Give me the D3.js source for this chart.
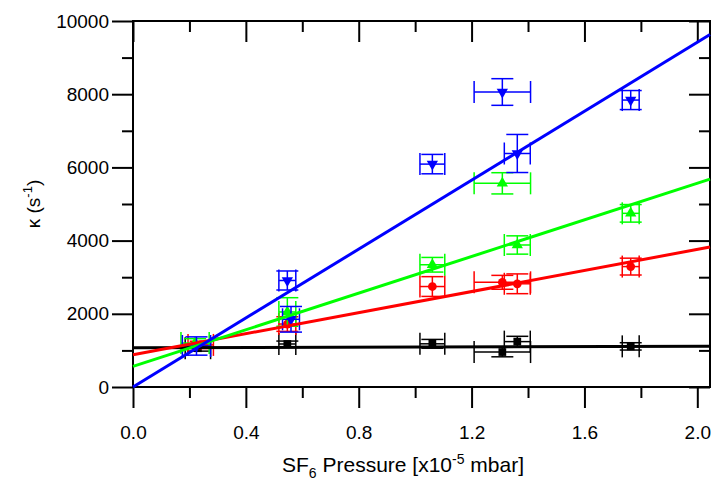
<!DOCTYPE html>
<html lang="en">

<head>
    <meta charset="UTF-8">
    <script src="https://d3js.org/d3.v7.min.js"></script>
    <title>kappa vs SF6 pressure</title>
    <style>
        body { margin: 0; background: white; }
        text { font-family: "Liberation Sans", Arial, sans-serif; fill: black; }
    </style>
</head>

<body>
    <div id="chart"></div>
    <script>
        // Data
        const xTicks = [0.0, 0.4, 0.8, 1.2, 1.6, 2.0];
        const yTicks = [0, 2000, 4000, 6000, 8000, 10000];

        const blackX = [0.23, 0.547, 1.061, 1.309, 1.362, 1.764];
        const blackY = [1060, 1175, 1180, 955, 1240, 1110];
        const blackXErr = [0.045, 0.03, 0.044, 0.1, 0.046, 0.03];
        const blackYErr = [80, 80, 120, 130, 145, 100];

        const redX = [0.24, 0.547, 1.061, 1.309, 1.362, 1.764];
        const redY = [1150, 1720, 2745, 2860, 2820, 3290];
        const redXErr = [0.045, 0.03, 0.044, 0.1, 0.046, 0.03];
        const redYErr = [100, 200, 270, 190, 270, 230];

        const greenX = [0.22, 0.547, 1.061, 1.309, 1.362, 1.764];
        const greenY = [1200, 2050, 3340, 5565, 3880, 4745];
        const greenXErr = [0.05, 0.03, 0.044, 0.1, 0.046, 0.03];
        const greenYErr = [120, 390, 200, 290, 250, 240];

        const blueX = [0.225, 0.547, 0.56, 1.061, 1.309, 1.362, 1.764];
        const blueY = [1120, 2910, 1850, 6090, 8060, 6380, 7840];
        const blueXErr = [0.05, 0.03, 0.03, 0.044, 0.1, 0.046, 0.03];
        const blueYErr = [250, 260, 350, 265, 364, 520, 260];

        // linear fits: kappa = intercept + slope * p
        const fitIntercept = [1070, 880, 562, 0];
        const fitSlope = [20, 1440, 2503, 4709];

        const series = [
            { color: "#000000", symbol: d3.symbolSquare, size: 60, rotate: 0, x: blackX, y: blackY, xe: blackXErr, ye: blackYErr },
            { color: "#ff0000", symbol: d3.symbolCircle, size: 60, rotate: 0, x: redX, y: redY, xe: redXErr, ye: redYErr },
            { color: "#00ff00", symbol: d3.symbolTriangle, size: 55, rotate: 0, x: greenX, y: greenY, xe: greenXErr, ye: greenYErr },
            { color: "#0000ff", symbol: d3.symbolTriangle, size: 55, rotate: 180, x: blueX, y: blueY, xe: blueXErr, ye: blueYErr }
        ];

        // Dimensions
        const width = 713;
        const height = 482;
        const margin = { top: 21, right: 3, bottom: 95, left: 133 };
        const innerW = width - margin.left - margin.right;
        const innerH = height - margin.top - margin.bottom;

        const svg = d3.select("#chart")
            .append("svg")
            .attr("width", width)
            .attr("height", height);

        const g = svg.append("g")
            .attr("transform", `translate(${margin.left},${margin.top})`);

        // Scales
        const xScale = d3.scaleLinear().domain([0, 2.045]).range([0, innerW]);
        const yScale = d3.scaleLinear().domain([0, 10000]).range([innerH, 0]);

        const xMinor = d3.range(0.2, 2.045, 0.4);
        const yMinor = d3.range(1000, 10000, 2000);

        // Axes
        const styleAxis = sel => {
            sel.select(".domain").remove();
            sel.selectAll("line").attr("stroke", "black").attr("stroke-width", 2);
            sel.selectAll("text").attr("font-size", 19);
        };

        g.append("g").attr("transform", `translate(0,${innerH})`)
            .call(d3.axisBottom(xScale).tickValues(xTicks).tickFormat(d3.format(".1f")).tickSize(21).tickPadding(18))
            .call(styleAxis);
        g.append("g").attr("transform", `translate(0,${innerH})`)
            .call(d3.axisBottom(xScale).tickValues(xMinor).tickFormat("").tickSize(11))
            .call(styleAxis);
        g.append("g")
            .call(d3.axisBottom(xScale).tickValues(xTicks).tickFormat("").tickSize(21))
            .call(styleAxis);
        g.append("g")
            .call(d3.axisBottom(xScale).tickValues(xMinor).tickFormat("").tickSize(11))
            .call(styleAxis);

        g.append("g")
            .call(d3.axisLeft(yScale).tickValues(yTicks).tickFormat(d3.format("d")).tickSize(21).tickPadding(3))
            .call(styleAxis);
        g.append("g")
            .call(d3.axisLeft(yScale).tickValues(yMinor).tickFormat("").tickSize(11))
            .call(styleAxis);
        g.append("g").attr("transform", `translate(${innerW},0)`)
            .call(d3.axisLeft(yScale).tickValues(yTicks).tickFormat("").tickSize(21))
            .call(styleAxis);
        g.append("g").attr("transform", `translate(${innerW},0)`)
            .call(d3.axisLeft(yScale).tickValues(yMinor).tickFormat("").tickSize(11))
            .call(styleAxis);

        // Frame
        g.append("rect")
            .attr("width", innerW)
            .attr("height", innerH)
            .attr("fill", "none")
            .attr("stroke", "black")
            .attr("stroke-width", 2);

        // Error bars and markers
        const cap = 11;
        series.forEach(s => {
            const pts = s.x.map((x, i) => ({ x, y: s.y[i], xe: s.xe[i], ye: s.ye[i] }));
            const grp = g.append("g").attr("stroke", s.color).attr("stroke-width", 1.5);

            pts.forEach(d => {
                const cx = xScale(d.x), cy = yScale(d.y);
                const x0 = xScale(d.x - d.xe), x1 = xScale(d.x + d.xe);
                const y0 = yScale(d.y - d.ye), y1 = yScale(d.y + d.ye);
                grp.append("line").attr("x1", x0).attr("x2", x1).attr("y1", cy).attr("y2", cy);
                grp.append("line").attr("x1", cx).attr("x2", cx).attr("y1", y0).attr("y2", y1);
                [x0, x1].forEach(x => grp.append("line").attr("x1", x).attr("x2", x).attr("y1", cy - cap).attr("y2", cy + cap));
                [y0, y1].forEach(y => grp.append("line").attr("x1", cx - cap).attr("x2", cx + cap).attr("y1", y).attr("y2", y));
            });

            g.append("g").selectAll("path")
                .data(pts)
                .join("path")
                .attr("d", d3.symbol().type(s.symbol).size(s.size))
                .attr("transform", d => `translate(${xScale(d.x)},${yScale(d.y)}) rotate(${s.rotate})`)
                .attr("fill", s.color);
        });

        // Fit lines
        const xEnd = xScale.domain()[1];
        series.forEach((s, i) => {
            g.append("line")
                .attr("x1", xScale(0))
                .attr("y1", yScale(fitIntercept[i]))
                .attr("x2", xScale(xEnd))
                .attr("y2", yScale(fitIntercept[i] + fitSlope[i] * xEnd))
                .attr("stroke", s.color)
                .attr("stroke-width", 3);
        });

        // Axis titles
        svg.append("text")
            .attr("x", 403)
            .attr("y", 472)
            .attr("text-anchor", "middle")
            .attr("font-size", 21)
            .html(`SF<tspan font-size="14" dy="6">6</tspan><tspan dy="-6"> Pressure [x10</tspan><tspan font-size="14" dy="-8">-5</tspan><tspan dy="8"> mbar]</tspan>`);

        svg.append("text")
            .attr("transform", `translate(40,${margin.top + innerH / 2}) rotate(-90)`)
            .attr("text-anchor", "middle")
            .attr("font-size", 19)
            .html(`κ (s<tspan font-size="13" dy="-8">-1</tspan><tspan dy="8">)</tspan>`);
    </script>
</body>

</html>
